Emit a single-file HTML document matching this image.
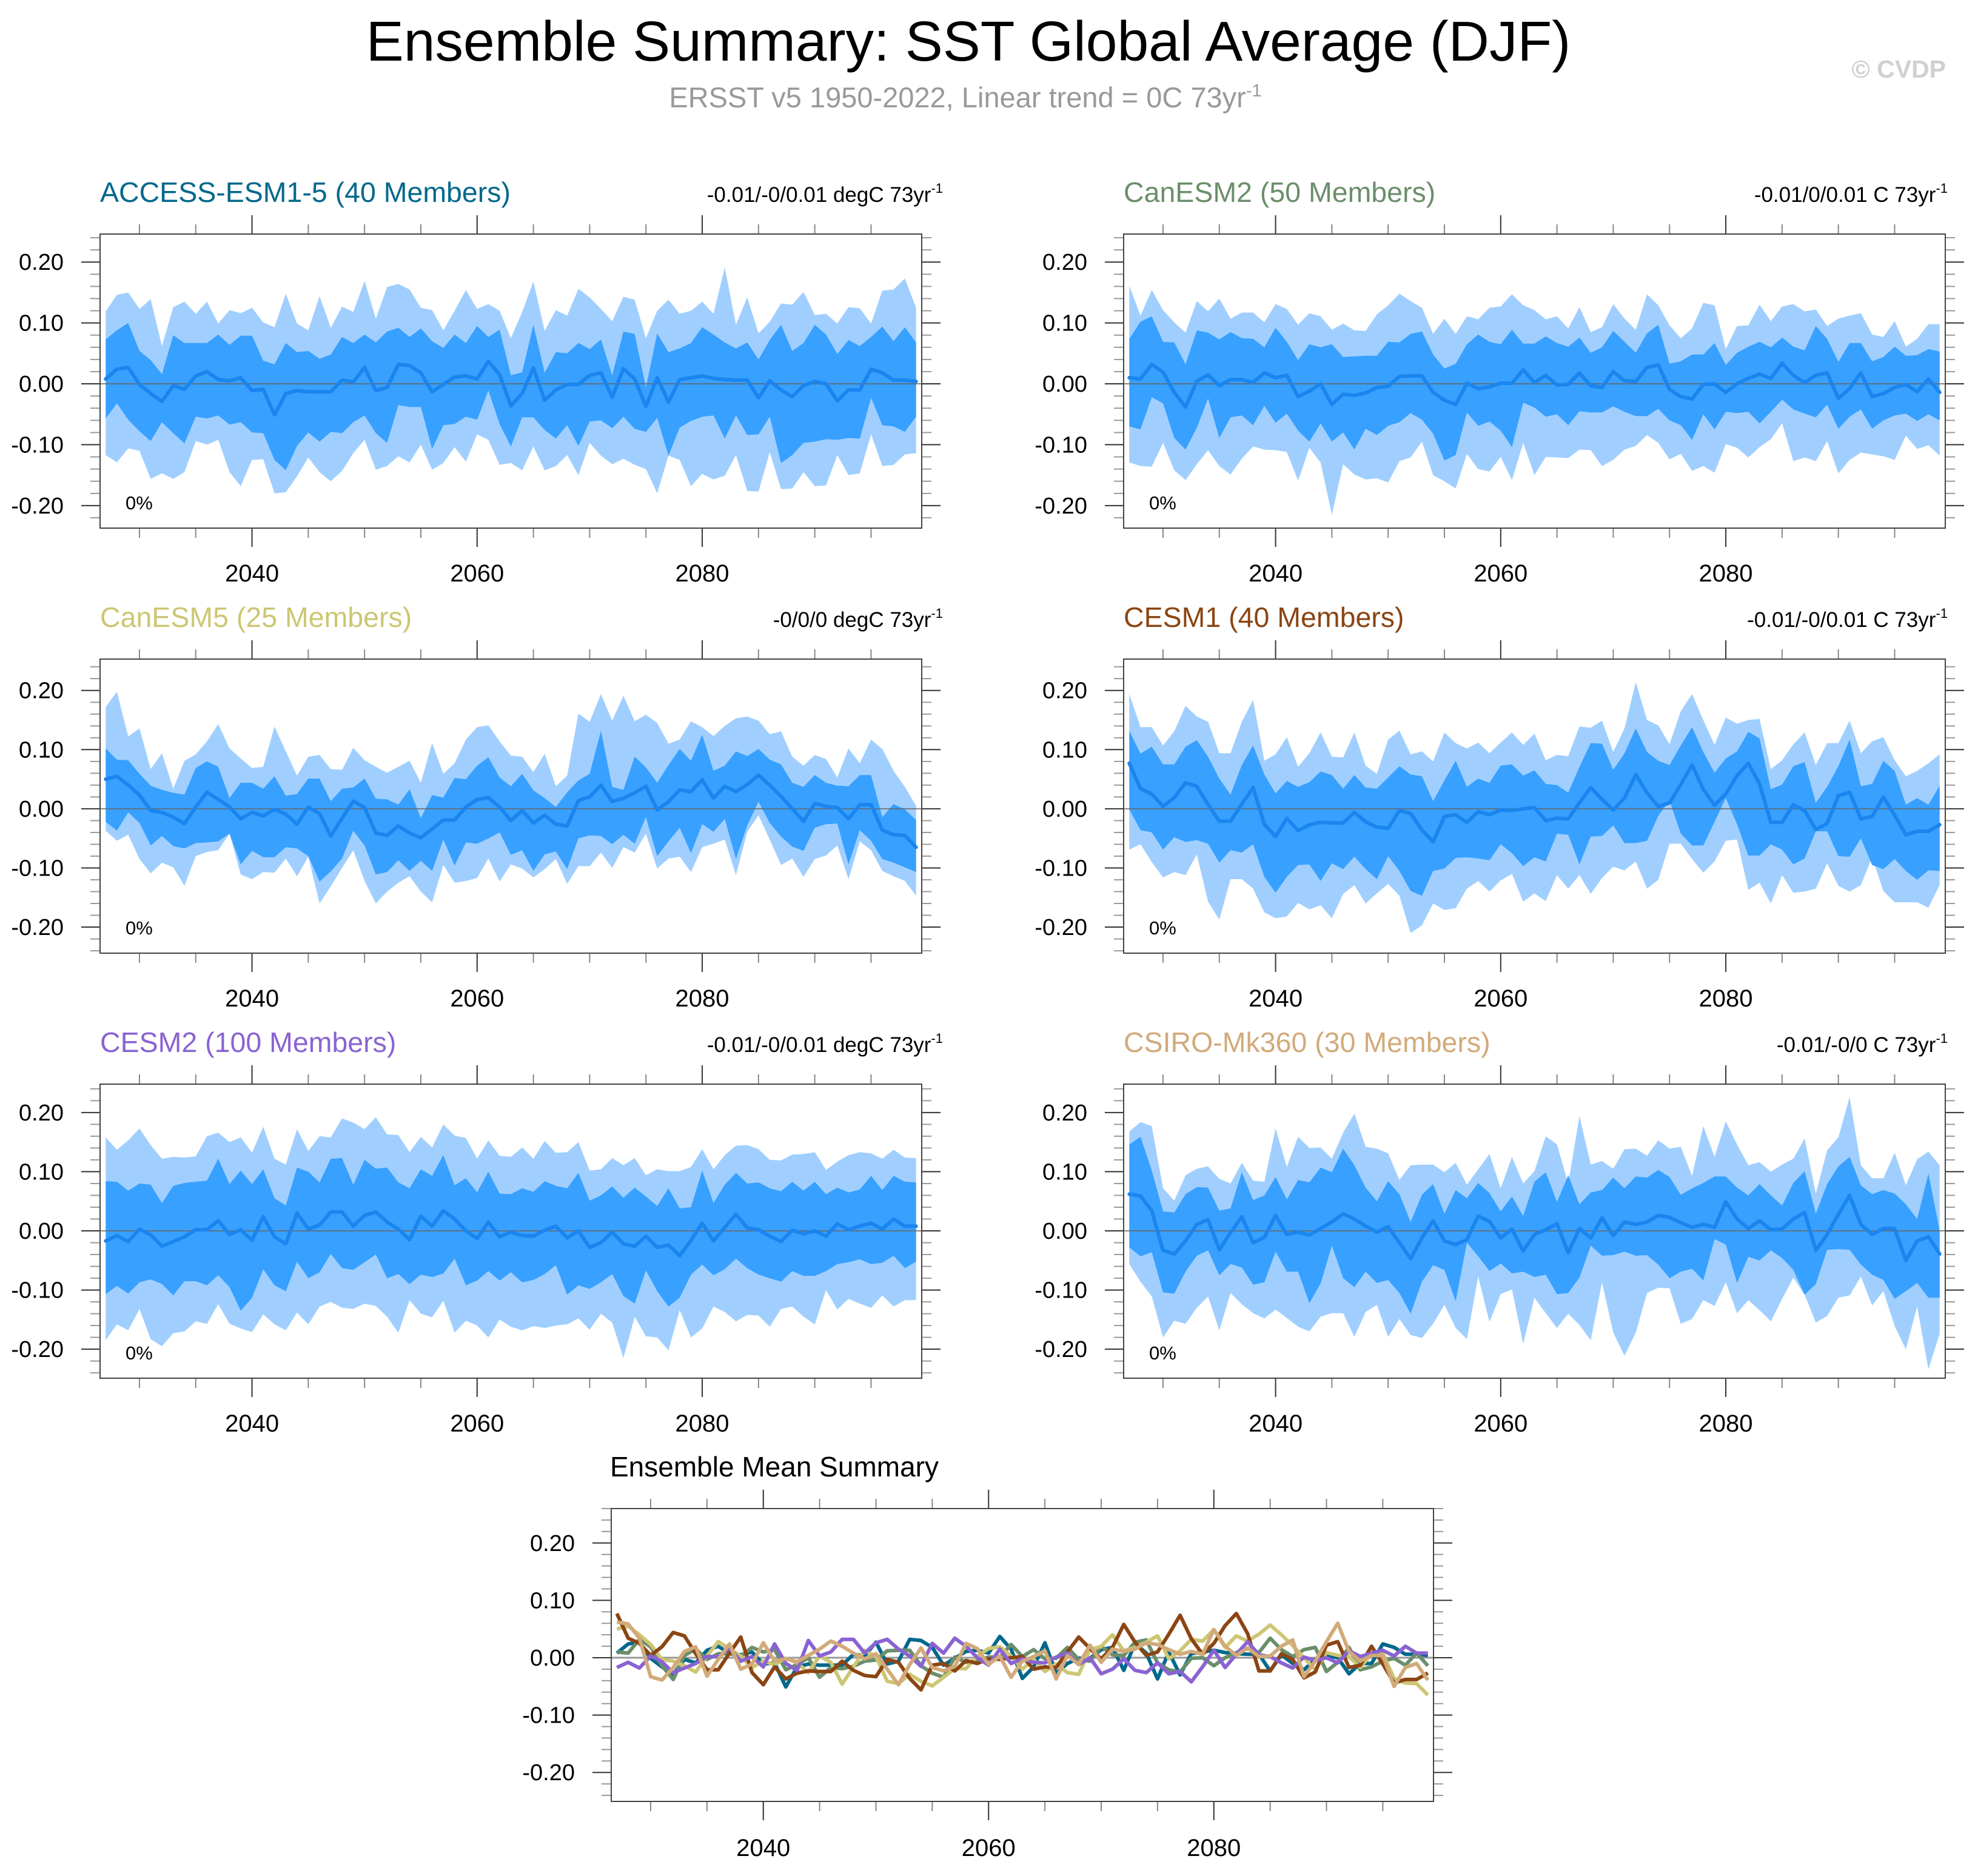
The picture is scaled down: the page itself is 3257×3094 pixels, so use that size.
<!DOCTYPE html>
<html><head><meta charset="utf-8"><title>Ensemble Summary: SST Global Average (DJF)</title>
<style>
html,body{margin:0;padding:0;background:#fff;}
svg{display:block;font-family:"Liberation Sans",Arial,sans-serif;}
</style></head>
<body>
<svg id="chart" width="3257" height="3094" viewBox="0 0 3257 3094" xmlns="http://www.w3.org/2000/svg">
<text x="1597" y="100" font-size="93" text-anchor="middle" fill="#000">Ensemble Summary: SST Global Average (DJF)</text>
<text x="1592" y="177" font-size="47" text-anchor="middle" fill="#999">ERSST v5 1950-2022, Linear trend = 0C 73yr<tspan dy="-18" font-size="29">-1</tspan></text>
<text x="3209" y="128" font-size="41" font-weight="bold" text-anchor="end" fill="#d0d0d0">© CVDP</text>
<g id="panels"></g>
</svg>
<script>
// Years 2027..2099
const firstYear = 2027, lastYear = 2099;
const years = [];
for (let y = firstYear; y <= lastYear; y++) years.push(y);
const yTickLabels = ["0.20","0.10","0.00","-0.10","-0.20"];
const yTickValues = [0.2,0.1,0,-0.1,-0.2];
const xTickLabels = ["2040","2060","2080"];
const xTickValues = [2040,2060,2080];

// values in thousandths of degC
const accessMean = [8,24,27,-1,-16,-29,-3,-9,13,20,7,5,10,-11,-9,-51,-16,-11,-13,-13,-13,6,3,27,-11,-6,32,30,18,-13,-1,11,13,8,37,15,-36,-16,26,-27,-10,-1,-1,14,18,-22,25,8,-37,10,-30,7,10,13,9,7,6,6,-23,5,-10,-21,-3,4,0,-28,-10,-10,24,18,6,6,4];
const accessDarkHi = [73,88,100,54,39,16,80,67,67,67,81,64,79,79,38,32,67,52,54,41,48,77,67,81,68,86,92,77,91,70,59,81,67,95,77,89,14,19,97,18,52,50,67,57,73,14,86,82,-6,83,52,58,67,93,81,68,58,68,40,72,97,54,67,97,81,49,72,62,77,94,70,93,68];
const accessDarkLo = [-57,-32,-59,-78,-94,-63,-81,-98,-54,-57,-52,-67,-63,-80,-81,-125,-142,-102,-80,-95,-79,-81,-63,-52,-81,-97,-35,-38,-38,-107,-68,-66,-54,-59,-11,-66,-103,-55,-55,-76,-90,-68,-102,-62,-60,-73,-54,-74,-79,-56,-118,-72,-61,-54,-52,-90,-52,-84,-83,-54,-130,-117,-97,-95,-91,-92,-89,-90,-23,-68,-70,-79,-54];
const accessLightHi = [119,146,150,123,139,62,126,135,115,135,99,121,116,125,101,93,148,99,88,144,92,127,118,169,107,159,164,155,125,121,88,120,154,123,131,120,75,118,168,87,121,112,156,142,123,103,143,138,75,120,138,115,120,135,115,191,97,142,83,102,132,130,151,113,115,99,126,124,99,153,155,173,125];
const accessLightLo = [-117,-129,-106,-110,-156,-147,-156,-145,-94,-100,-92,-145,-168,-125,-124,-180,-178,-152,-121,-145,-160,-143,-114,-92,-141,-135,-119,-129,-100,-141,-130,-104,-128,-83,-92,-133,-130,-142,-103,-142,-135,-117,-150,-97,-118,-132,-123,-133,-140,-180,-118,-125,-168,-148,-157,-151,-117,-176,-177,-112,-173,-172,-145,-168,-167,-117,-150,-147,-83,-135,-133,-116,-114];

const canesm2Mean = [10,8,32,19,-14,-38,4,15,-3,7,7,2,18,10,14,-21,-12,0,-34,-17,-19,-15,-6,-4,12,13,13,-14,-27,-34,1,-8,-5,1,1,23,2,14,-2,-1,18,-3,-6,20,5,4,27,31,-9,-21,-25,-1,0,-14,0,9,16,9,34,14,2,14,18,-24,-8,18,-21,-16,-6,-1,-13,8,-14];
const canesm2DarkHi = [74,102,111,69,68,32,88,84,73,85,75,74,60,92,69,39,65,60,65,44,45,46,46,69,68,82,86,48,25,33,65,81,69,65,89,66,66,78,67,61,76,51,60,87,69,51,83,97,33,37,48,48,67,31,51,61,69,60,76,61,55,95,74,36,67,67,37,44,61,46,47,57,53];
const canesm2DarkLo = [-70,-75,-22,-32,-89,-108,-72,-24,-89,-55,-52,-68,-36,-64,-49,-77,-95,-65,-95,-80,-108,-74,-84,-69,-63,-48,-59,-82,-126,-117,-47,-69,-62,-77,-104,-31,-39,-54,-50,-68,-45,-47,-47,-37,-46,-53,-53,-41,-60,-68,-92,-50,-75,-46,-48,-46,-65,-46,-26,-42,-49,-55,-34,-74,-54,-42,-74,-60,-52,-49,-61,-50,-60];
const canesm2LightHi = [161,112,154,121,101,84,136,119,140,107,117,117,101,131,123,97,116,111,89,99,88,87,114,129,148,136,125,82,107,82,111,106,125,127,147,129,121,106,111,91,126,85,93,131,107,89,147,129,96,75,91,133,129,57,95,96,130,103,127,131,119,122,95,107,112,116,81,77,103,61,74,98,98];
const canesm2LightLo = [-129,-135,-136,-97,-142,-158,-132,-109,-135,-149,-123,-103,-108,-109,-112,-159,-105,-129,-215,-132,-149,-157,-155,-162,-127,-121,-95,-150,-160,-172,-115,-140,-144,-120,-158,-97,-150,-120,-121,-122,-108,-109,-135,-125,-108,-102,-84,-97,-124,-115,-143,-135,-146,-99,-105,-121,-104,-91,-65,-127,-121,-127,-94,-147,-125,-113,-116,-119,-125,-85,-107,-101,-118];

const canesm5Mean = [50,55,40,23,-3,-6,-14,-25,3,28,16,3,-17,-6,-12,-1,-9,-26,3,-8,-46,-16,13,2,-41,-45,-29,-41,-49,-34,-19,-19,3,16,19,3,-20,-3,-24,-11,-26,-29,14,20,40,12,18,27,38,-2,12,32,29,49,18,38,29,41,57,40,21,0,-21,9,4,2,-17,7,7,-36,-44,-45,-65];
const canesm5DarkHi = [102,83,82,59,39,32,27,24,69,80,71,18,44,44,34,55,22,25,51,51,13,34,36,51,17,16,7,33,-16,23,19,52,50,73,87,53,38,59,31,18,3,28,48,59,132,37,32,88,70,44,74,101,81,125,64,73,97,89,101,83,75,44,37,57,44,39,38,57,57,-14,8,-1,-19];
const canesm5DarkLo = [-22,-37,-6,-24,-62,-46,-63,-67,-58,-57,-55,-42,-94,-71,-82,-82,-65,-67,-80,-123,-106,-84,-37,-62,-111,-107,-87,-105,-88,-105,-52,-96,-57,-59,-50,-40,-78,-70,-105,-77,-72,-102,-50,-45,-46,-60,-44,-59,-14,-80,-55,-32,-75,-26,-39,-17,-85,-28,12,-24,-47,-64,-71,-32,-26,-25,-94,-36,-54,-85,-91,-99,-107];
const canesm5LightHi = [172,198,122,136,67,94,34,81,92,114,143,102,85,69,71,139,97,56,88,91,67,66,103,82,71,61,71,81,44,111,59,77,117,138,141,114,90,88,62,93,38,56,161,147,194,149,191,148,159,145,110,117,148,138,123,140,153,156,149,126,131,88,73,91,84,53,102,77,117,101,64,37,5];
const canesm5LightLo = [-37,-54,-44,-85,-109,-91,-99,-130,-80,-73,-70,-42,-111,-119,-107,-108,-84,-114,-81,-160,-131,-100,-70,-122,-160,-140,-125,-114,-140,-158,-95,-125,-122,-117,-84,-123,-94,-101,-116,-102,-85,-127,-97,-97,-74,-100,-65,-74,-42,-101,-84,-81,-107,-65,-59,-52,-112,-39,-11,-52,-95,-84,-115,-85,-79,-62,-119,-55,-70,-105,-114,-122,-147];

const cesm1Mean = [77,34,25,4,19,44,38,7,-21,-21,8,36,-26,-47,-16,-37,-27,-23,-24,-24,-6,-22,-31,-33,-3,-8,-36,-56,-13,-10,-23,-5,-10,-2,-3,0,2,-20,-16,-17,10,36,16,-2,18,58,27,4,10,41,74,33,6,25,56,77,42,-23,-23,7,-3,-35,-25,22,28,-17,-13,20,-11,-44,-38,-38,-27];
const cesm1DarkHi = [132,93,105,75,75,105,116,88,51,24,74,107,58,26,47,37,45,63,57,34,57,36,34,53,72,58,55,13,48,81,37,51,44,73,75,56,65,42,40,27,71,111,110,66,94,136,96,81,74,107,138,96,61,85,97,130,119,33,41,72,79,10,37,72,117,38,42,81,64,7,18,7,39];
const cesm1DarkLo = [-1,-36,-40,-69,-48,-56,-53,-59,-91,-70,-74,-60,-115,-142,-115,-95,-94,-122,-92,-102,-81,-102,-119,-80,-105,-139,-147,-105,-101,-83,-82,-84,-87,-60,-75,-97,-82,-89,-42,-44,-94,-47,-46,-28,-58,-58,-54,-12,14,-42,-62,-62,-22,18,-26,-79,-79,-60,-69,-94,-84,-38,-38,-80,-81,-50,-95,-102,-85,-105,-120,-104,-105];
const cesm1LightHi = [194,138,138,107,131,174,156,147,94,94,147,184,81,92,121,71,94,129,88,87,129,73,59,117,132,92,97,80,129,111,102,112,94,112,129,108,127,82,91,89,139,137,149,96,136,214,150,141,109,165,194,150,108,154,144,150,152,67,82,109,129,74,111,111,149,94,114,121,82,55,64,77,92];
const cesm1LightLo = [-69,-60,-90,-116,-107,-112,-77,-157,-187,-119,-119,-135,-175,-185,-182,-159,-170,-163,-185,-144,-129,-160,-143,-127,-147,-210,-197,-160,-171,-168,-135,-122,-140,-121,-110,-157,-143,-156,-112,-135,-112,-144,-117,-98,-104,-89,-135,-120,-59,-59,-85,-108,-89,-54,-52,-137,-125,-160,-112,-142,-140,-135,-92,-130,-140,-129,-82,-139,-158,-158,-158,-167,-129];

const cesm2Mean = [-17,-8,-18,3,-7,-26,-18,-10,2,2,17,-6,2,-16,24,-10,-22,30,3,10,32,32,8,26,32,15,3,-15,25,8,34,20,0,-13,15,-10,-2,-8,-9,1,8,-12,0,-28,-20,-2,-22,-26,-9,-28,-24,-42,-16,13,-17,6,28,5,2,-9,-18,1,-5,0,-9,12,2,8,13,3,20,8,8];
const cesm2DarkHi = [84,83,68,80,78,47,76,81,83,85,122,79,102,79,104,55,43,107,100,82,122,123,78,120,105,107,82,72,104,93,128,77,89,65,100,63,62,72,66,84,76,72,98,51,60,75,56,73,58,42,72,38,40,102,47,78,98,80,82,72,67,83,68,83,62,73,65,70,93,69,93,83,82];
const cesm2DarkLo = [-107,-93,-106,-87,-82,-90,-109,-85,-85,-92,-75,-95,-135,-113,-65,-92,-102,-52,-80,-70,-39,-63,-66,-53,-40,-80,-73,-90,-74,-78,-72,-47,-92,-84,-68,-84,-70,-87,-83,-73,-58,-108,-92,-98,-87,-73,-110,-123,-67,-102,-128,-113,-74,-57,-75,-65,-47,-63,-74,-80,-86,-68,-76,-76,-68,-56,-53,-48,-56,-54,-42,-63,-52];
const cesm2LightHi = [158,137,153,173,145,122,125,124,126,160,166,150,158,132,176,122,112,172,135,160,158,190,183,172,192,163,162,133,159,141,180,161,157,122,153,127,125,141,122,152,132,133,150,102,104,123,111,123,94,104,101,101,108,138,104,128,144,145,138,120,119,129,130,133,103,117,128,133,131,122,137,124,123];
const cesm2LightLo = [-185,-158,-168,-132,-183,-195,-173,-170,-153,-157,-124,-157,-165,-171,-141,-158,-168,-138,-158,-128,-120,-130,-132,-123,-127,-145,-172,-117,-140,-146,-118,-172,-152,-160,-180,-150,-162,-168,-161,-164,-160,-158,-148,-167,-140,-155,-215,-145,-178,-180,-202,-134,-180,-165,-128,-137,-153,-142,-143,-162,-132,-128,-145,-158,-100,-133,-115,-123,-130,-109,-128,-117,-117];

const csiroMean = [62,59,34,-33,-39,-17,11,19,-32,-3,24,-20,-11,26,-6,-2,-7,4,15,29,20,8,-2,7,-20,-47,-12,17,-17,-23,-15,25,16,-12,3,-34,-6,2,12,-37,4,-12,22,-8,15,11,15,26,23,14,6,11,6,49,20,4,17,2,3,20,31,-33,-6,28,60,11,-6,4,4,-50,-17,-10,-39];
const csiroDarkHi = [146,159,102,33,31,62,74,73,34,38,99,52,60,91,53,86,82,107,99,139,111,73,50,84,62,15,61,79,29,69,55,81,64,33,58,25,83,99,49,94,45,65,69,90,72,92,90,103,91,61,72,81,92,92,73,60,79,60,43,81,101,29,79,109,125,77,62,69,63,45,20,97,0];
const csiroDarkLo = [-28,-43,-36,-104,-106,-69,-42,-33,-75,-56,-62,-91,-87,-35,-69,-69,-122,-89,-25,-80,-95,-69,-88,-83,-105,-140,-86,-58,-66,-119,-20,-43,-68,-55,-72,-69,-78,-74,-107,-105,-79,-25,-42,-41,-35,-42,-41,-57,-80,-69,-64,-84,-14,-23,-88,-44,-50,-33,-46,-66,-108,-90,-32,-31,-32,-57,-74,-83,-115,-102,-88,-113,-113];
const csiroLightHi = [168,184,177,72,51,94,105,109,88,80,115,85,83,173,108,159,140,141,122,166,198,142,139,131,86,111,112,112,99,115,78,104,130,72,125,80,101,160,146,80,194,112,118,105,138,139,127,153,139,142,93,177,125,185,146,111,116,100,112,122,156,63,136,158,226,111,89,89,132,77,121,134,111];
const csiroLightLo = [-56,-86,-111,-180,-152,-157,-130,-111,-168,-105,-124,-139,-148,-133,-147,-162,-170,-145,-139,-139,-179,-137,-125,-179,-149,-176,-181,-157,-125,-164,-183,-77,-154,-107,-99,-191,-113,-139,-164,-140,-159,-185,-87,-172,-211,-172,-105,-96,-97,-157,-149,-117,-127,-87,-139,-117,-134,-153,-115,-79,-108,-155,-144,-113,-109,-77,-126,-102,-161,-200,-128,-234,-174];

const panelNames = ["ACCESS-ESM1-5 (40 Members)","CanESM2 (50 Members)","CanESM5 (25 Members)","CESM1 (40 Members)","CESM2 (100 Members)","CSIRO-Mk360 (30 Members)"];
const panelTrends = ["-0.01/-0/0.01 degC 73yr","-0.01/0/0.01 C 73yr","-0/0/0 degC 73yr","-0.01/-0/0.01 C 73yr","-0.01/-0/0.01 degC 73yr","-0.01/-0/0 C 73yr"];
const modelColors = ["#00688b","#6b8e6b","#cdc673","#8b4513","#8a63d2","#d2aa7a"];

const NS = "http://www.w3.org/2000/svg";
const root = document.getElementById('panels');
function mk(tag, attrs, parent){
  const e = document.createElementNS(NS, tag);
  for (const k in attrs) e.setAttribute(k, attrs[k]);
  (parent||root).appendChild(e);
  return e;
}

function makeAxes(x0, y0, w, h, ymin, ymax){
  const xs = v => x0 + (v - 2026.5) / 73 * w;
  const ys = v => y0 + (ymax - v) / (ymax - ymin) * h;
  return {xs, ys};
}

function drawFrame(g, x0, y0, w, h, ymin, ymax, ax, slug, yearDy){
  const tg = mk('g', {}, g);
  
  
  for (let k = Math.ceil(ymin/0.02 - 1e-6); k*0.02 <= ymax + 1e-6; k++){
    const v = k*0.02, y = ax.ys(v);
    const major = Math.abs(Math.round(v*10) - v*10) < 1e-6;
    const L = major ? 31 : 16;
    mk('line', {x1:x0-L, x2:x0, y1:y, y2:y, stroke: major ? '#333' : '#999', 'stroke-width':2}, tg);
    mk('line', {x1:x0+w, x2:x0+w+L, y1:y, y2:y, stroke: major ? '#333' : '#999', 'stroke-width':2}, tg);
  }
  for (let yr = 2030; yr <= 2095; yr += 5){
    const x = ax.xs(yr);
    const major = xTickValues.indexOf(yr) >= 0;
    const L = major ? 31 : 16;
    mk('line', {x1:x, x2:x, y1:y0-L, y2:y0, stroke: major ? '#333' : '#888', 'stroke-width':2}, tg);
    mk('line', {x1:x, x2:x, y1:y0+h, y2:y0+h+L, stroke: major ? '#333' : '#888', 'stroke-width':2}, tg);
  }
  yTickLabels.forEach((lab, i) => {
    const t = mk('text', {x:x0-60, y:ax.ys(yTickValues[i]) + 13, 'font-size':38, 'text-anchor':'end', fill:'#000'}, g);
    
    
    t.textContent = lab;
  });
  xTickLabels.forEach((lab, i) => {
    const t = mk('text', {x:ax.xs(xTickValues[i]), y:y0+h+yearDy, 'font-size':40, 'text-anchor':'middle', fill:'#000'}, g);
    
    
    t.textContent = lab;
  });
  const fr = mk('rect', {x:x0, y:y0, width:w, height:h, fill:'none', stroke:'#444', 'stroke-width':2}, g);
  
  
}

function bandPath(ax, hi, lo){
  let d = '';
  hi.forEach((v, i) => { d += (i ? 'L' : 'M') + ax.xs(years[i]).toFixed(1) + ',' + ax.ys(v/1000).toFixed(1); });
  for (let i = lo.length - 1; i >= 0; i--) d += 'L' + ax.xs(years[i]).toFixed(1) + ',' + ax.ys(lo[i]/1000).toFixed(1);
  return d + 'Z';
}
function linePath(ax, arr){
  let d = '';
  arr.forEach((v, i) => { d += (i ? 'L' : 'M') + ax.xs(years[i]).toFixed(1) + ',' + ax.ys(v/1000).toFixed(1); });
  return d;
}

const panelSeries = [
  [accessMean, accessDarkHi, accessDarkLo, accessLightHi, accessLightLo],
  [canesm2Mean, canesm2DarkHi, canesm2DarkLo, canesm2LightHi, canesm2LightLo],
  [canesm5Mean, canesm5DarkHi, canesm5DarkLo, canesm5LightHi, canesm5LightLo],
  [cesm1Mean, cesm1DarkHi, cesm1DarkLo, cesm1LightHi, cesm1LightLo],
  [cesm2Mean, cesm2DarkHi, cesm2DarkLo, cesm2LightHi, cesm2LightLo],
  [csiroMean, csiroDarkHi, csiroDarkLo, csiroLightHi, csiroLightLo]
];
const colX = [165, 1853];
const trendEnd = [1555, 3212];
const rowY = [386, 1087, 1788];
const rowRange = [[-0.237, 0.246], [-0.244, 0.253], [-0.249, 0.248]];
const W = 1355, H = 485;

panelSeries.forEach((s, p) => {
  const col = p % 2, row = Math.floor(p / 2);
  const x0 = colX[col], y0 = rowY[row];
  const [ymin, ymax] = rowRange[row];
  const ax = makeAxes(x0, y0, W, H, ymin, ymax);
  const slug = 'panel-' + panelNames[p].split(' ')[0].toLowerCase();
  const g = mk('g', {});
  
  

  const title = mk('text', {x:x0, y:y0-53, 'font-size':46.5, fill:modelColors[p]}, g);
  
  
  title.textContent = panelNames[p];

  const tr = mk('text', {x:trendEnd[col], y:y0-53, 'font-size':35, 'text-anchor':'end', fill:'#000'}, g);
  
  
  tr.appendChild(document.createTextNode(panelTrends[p]));
  const sup = mk('tspan', {dy:-15, 'font-size':22}, tr);
  sup.textContent = '-1';

  const light = mk('path', {d:bandPath(ax, s[3], s[4]), fill:'#a0cfff'}, g);
  
  
  const dark = mk('path', {d:bandPath(ax, s[1], s[2]), fill:'#38a0ff'}, g);
  
  
  const zl = mk('line', {x1:x0, x2:x0+W, y1:ax.ys(0), y2:ax.ys(0), stroke:'#666', 'stroke-width':2, opacity:0.8}, g);
  
  
  const ml = mk('path', {d:linePath(ax, s[0]), fill:'none', stroke:'#1a85ee', 'stroke-width':6, 'stroke-linejoin':'round', 'stroke-linecap':'round'}, g);
  
  

  const pct = mk('text', {x:x0+42, y:y0+H-31, 'font-size':31, fill:'#000'}, g);
  
  
  pct.textContent = '0%';

  drawFrame(g, x0, y0, W, H, ymin, ymax, ax, slug, 88);
});

(function(){
  const x0 = 1008, y0 = 2488, w = 1356, h = 483, ymin = -0.2505, ymax = 0.26;
  const ax = makeAxes(x0, y0, w, h, ymin, ymax);
  const g = mk('g', {});
  
  
  const t = mk('text', {x:1006, y:2435, 'font-size':46, fill:'#000'}, g);
  
  
  t.textContent = 'Ensemble Mean Summary';
  const zl = mk('line', {x1:x0, x2:x0+w, y1:ax.ys(0), y2:ax.ys(0), stroke:'#999', 'stroke-width':3}, g);
  
  
  panelSeries.forEach((s, p) => {
    const l = mk('path', {d:linePath(ax, s[0]), fill:'none', stroke:modelColors[p], 'stroke-width':6, 'stroke-linejoin':'round'}, g);
    
    
  });
  drawFrame(g, x0, y0, w, h, ymin, ymax, ax, 'summary', 90);
})();
</script>
</body></html>
